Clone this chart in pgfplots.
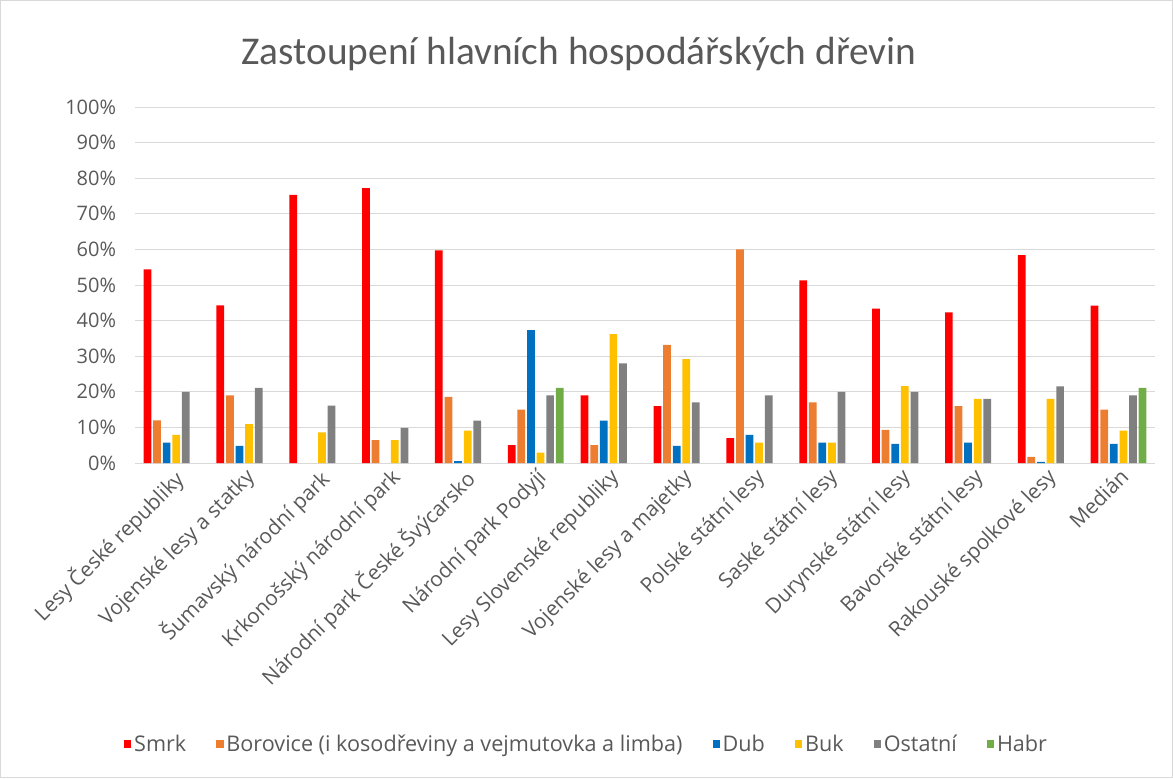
\documentclass[border=0pt]{standalone}
\usepackage{fontspec}
\setmainfont{Open Sans}
\newfontfamily\titlefont{Carlito}
\usepackage{pgfplots}
\pgfplotsset{compat=1.18}
\definecolor{cSmrk}{HTML}{FF0000}
\definecolor{cBor}{HTML}{ED7D31}
\definecolor{cDub}{HTML}{0070C0}
\definecolor{cBuk}{HTML}{FFC000}
\definecolor{cOst}{HTML}{808080}
\definecolor{cHabr}{HTML}{70AD47}
\definecolor{txt}{HTML}{595959}
\definecolor{gridc}{HTML}{D9D9D9}
\begin{document}
\begin{tikzpicture}
\begin{scope}[x=0.75pt,y=-0.75pt]
\useasboundingbox (0,0) rectangle (1173,778);
\draw[gridc, line width=0.75pt] (0.5,0.5) rectangle (1172.5,777.5);
\node[font=\titlefont\fontsize{29.5}{34}\selectfont, text=txt] at (579,54) {Zastoupení hlavních hospodářských dřevin};
\end{scope}
\begin{axis}[
  at={(101.25pt,-347.25pt)}, anchor=south west,
  scale only axis, width=765pt, height=267pt,
  ymin=0, ymax=100, xmin=-0.5, xmax=13.5,
  ybar=1.4pt, bar width=5.8pt,
  ytick={0,10,...,100},
  yticklabel={\pgfmathprintnumber[assume math mode=true]{\tick}\%},
  xtick={0,...,13},
  xticklabels={Lesy České republiky, Vojenské lesy a statky, Šumavský národní park, Krkonošský národní park, Národní park České Švýcarsko, Národní park Podyjí, Lesy Slovenské republiky, Vojenské lesy a majetky, Polské státní lesy, Saské státní lesy, Durynské státní lesy, Bavorské státní lesy, Rakouské spolkové lesy, Medián},
  tick label style={text=txt, font=\fontsize{15}{18}\selectfont},
  x tick label style={rotate=45, anchor=north east, inner sep=2pt, font=\fontsize{15.6}{18}\selectfont},
  y tick label style={anchor=east, inner sep=0pt, xshift=-14pt},
  axis line style={draw=none},
  major tick length=0pt,
  ymajorgrids, major grid style={gridc, line width=0.75pt},
  legend style={at={(0.443,-0.789)}, anchor=center, draw=none, fill=none,
    legend columns=6, font=\fontsize{16.2}{19}\selectfont, text=txt,
    /tikz/every even column/.append style={column sep=20.5pt},
    /tikz/every odd column/.append style={column sep=0pt}},
  legend image code/.code={\fill[#1] (0pt,-2.8pt) rectangle (5.6pt,2.8pt);},
]
\addplot[fill=cSmrk, draw=none] coordinates {(0,54.4)(1,44.3)(2,75.3)(3,77.2)(4,59.7)(5,5)(6,19)(7,16)(8,7)(9,51.3)(10,43.4)(11,42.3)(12,58.4)(13,44.2)};
\addlegendentry{Smrk}
\addplot[fill=cBor, draw=none] coordinates {(0,12)(1,19)(3,6.4)(4,18.6)(5,15)(6,5)(7,33.2)(8,60)(9,17)(10,9.3)(11,16)(12,1.7)(13,15)};
\addlegendentry{Borovice (i kosodřeviny a vejmutovka a limba)}
\addplot[fill=cDub, draw=none] coordinates {(0,5.7)(1,4.8)(4,0.5)(5,37.3)(6,11.9)(7,4.8)(8,7.9)(9,5.7)(10,5.4)(11,5.7)(12,0.3)(13,5.4)};
\addlegendentry{Dub}
\addplot[fill=cBuk, draw=none] coordinates {(0,7.9)(1,10.9)(2,8.6)(3,6.4)(4,9.1)(5,2.9)(6,36.2)(7,29.2)(8,5.7)(9,5.7)(10,21.6)(11,18)(12,18)(13,9.1)};
\addlegendentry{Buk}
\addplot[fill=cOst, draw=none] coordinates {(0,20)(1,21.1)(2,16.1)(3,9.9)(4,11.9)(5,19)(6,28)(7,17)(8,19)(9,20)(10,20)(11,18)(12,21.5)(13,19)};
\addlegendentry{Ostatní}
\addplot[fill=cHabr, draw=none] coordinates {(5,21.1)(13,21.1)};
\addlegendentry{Habr}
\end{axis}
\end{tikzpicture}
\end{document}
